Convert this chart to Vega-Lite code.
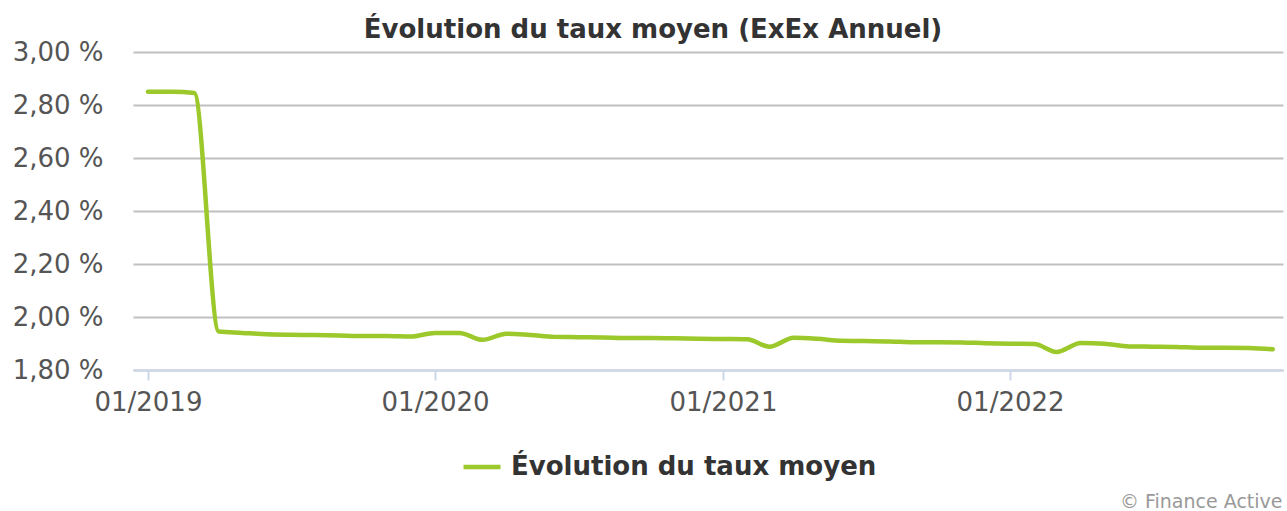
{
  "$schema": "https://vega.github.io/schema/vega-lite/v6.json",
  "width": 1150,
  "height": 318,
  "autosize": {"type": "none"},
  "padding": {"left": 133, "top": 52, "right": 4, "bottom": 141},
  "background": "white",
  "config": {"view": {"stroke": null}, "font": "DejaVu Sans"},
  "title": {
    "text": "Évolution du taux moyen (ExEx Annuel)",
    "font": "DejaVu Sans",
    "fontSize": 26,
    "fontWeight": "bold",
    "color": "#333333",
    "anchor": "middle",
    "frame": "group",
    "dx": -55,
    "offset": -4
  },
  "data": {
    "values": [
      {"date": "2019-01-01", "taux": 2.850, "serie": "Évolution du taux moyen"},
      {"date": "2019-02-01", "taux": 2.850, "serie": "Évolution du taux moyen"},
      {"date": "2019-03-01", "taux": 2.845, "serie": "Évolution du taux moyen"},
      {"date": "2019-04-01", "taux": 1.945, "serie": "Évolution du taux moyen"},
      {"date": "2019-05-01", "taux": 1.940, "serie": "Évolution du taux moyen"},
      {"date": "2019-06-01", "taux": 1.935, "serie": "Évolution du taux moyen"},
      {"date": "2019-07-01", "taux": 1.933, "serie": "Évolution du taux moyen"},
      {"date": "2019-08-01", "taux": 1.932, "serie": "Évolution du taux moyen"},
      {"date": "2019-09-01", "taux": 1.930, "serie": "Évolution du taux moyen"},
      {"date": "2019-10-01", "taux": 1.928, "serie": "Évolution du taux moyen"},
      {"date": "2019-11-01", "taux": 1.928, "serie": "Évolution du taux moyen"},
      {"date": "2019-12-01", "taux": 1.926, "serie": "Évolution du taux moyen"},
      {"date": "2020-01-01", "taux": 1.940, "serie": "Évolution du taux moyen"},
      {"date": "2020-02-01", "taux": 1.940, "serie": "Évolution du taux moyen"},
      {"date": "2020-03-01", "taux": 1.914, "serie": "Évolution du taux moyen"},
      {"date": "2020-04-01", "taux": 1.937, "serie": "Évolution du taux moyen"},
      {"date": "2020-05-01", "taux": 1.932, "serie": "Évolution du taux moyen"},
      {"date": "2020-06-01", "taux": 1.925, "serie": "Évolution du taux moyen"},
      {"date": "2020-07-01", "taux": 1.924, "serie": "Évolution du taux moyen"},
      {"date": "2020-08-01", "taux": 1.923, "serie": "Évolution du taux moyen"},
      {"date": "2020-09-01", "taux": 1.921, "serie": "Évolution du taux moyen"},
      {"date": "2020-10-01", "taux": 1.921, "serie": "Évolution du taux moyen"},
      {"date": "2020-11-01", "taux": 1.920, "serie": "Évolution du taux moyen"},
      {"date": "2020-12-01", "taux": 1.918, "serie": "Évolution du taux moyen"},
      {"date": "2021-01-01", "taux": 1.917, "serie": "Évolution du taux moyen"},
      {"date": "2021-02-01", "taux": 1.916, "serie": "Évolution du taux moyen"},
      {"date": "2021-03-01", "taux": 1.888, "serie": "Évolution du taux moyen"},
      {"date": "2021-04-01", "taux": 1.922, "serie": "Évolution du taux moyen"},
      {"date": "2021-05-01", "taux": 1.918, "serie": "Évolution du taux moyen"},
      {"date": "2021-06-01", "taux": 1.910, "serie": "Évolution du taux moyen"},
      {"date": "2021-07-01", "taux": 1.909, "serie": "Évolution du taux moyen"},
      {"date": "2021-08-01", "taux": 1.908, "serie": "Évolution du taux moyen"},
      {"date": "2021-09-01", "taux": 1.905, "serie": "Évolution du taux moyen"},
      {"date": "2021-10-01", "taux": 1.905, "serie": "Évolution du taux moyen"},
      {"date": "2021-11-01", "taux": 1.904, "serie": "Évolution du taux moyen"},
      {"date": "2021-12-01", "taux": 1.901, "serie": "Évolution du taux moyen"},
      {"date": "2022-01-01", "taux": 1.899, "serie": "Évolution du taux moyen"},
      {"date": "2022-02-01", "taux": 1.898, "serie": "Évolution du taux moyen"},
      {"date": "2022-03-01", "taux": 1.868, "serie": "Évolution du taux moyen"},
      {"date": "2022-04-01", "taux": 1.902, "serie": "Évolution du taux moyen"},
      {"date": "2022-05-01", "taux": 1.899, "serie": "Évolution du taux moyen"},
      {"date": "2022-06-01", "taux": 1.889, "serie": "Évolution du taux moyen"},
      {"date": "2022-07-01", "taux": 1.888, "serie": "Évolution du taux moyen"},
      {"date": "2022-08-01", "taux": 1.887, "serie": "Évolution du taux moyen"},
      {"date": "2022-09-01", "taux": 1.884, "serie": "Évolution du taux moyen"},
      {"date": "2022-10-01", "taux": 1.884, "serie": "Évolution du taux moyen"},
      {"date": "2022-11-01", "taux": 1.883, "serie": "Évolution du taux moyen"},
      {"date": "2022-12-01", "taux": 1.878, "serie": "Évolution du taux moyen"}
    ]
  },
  "mark": {"type": "line", "interpolate": "monotone", "strokeWidth": 4.5, "strokeCap": "round", "strokeJoin": "round"},
  "encoding": {
    "x": {
      "field": "date",
      "type": "temporal",
      "scale": {"domain": [{"year": 2018, "month": 12, "date": 13}, {"year": 2022, "month": 12, "date": 14}]},
      "axis": {
        "title": "© Finance Active",
        "titleFont": "DejaVu Sans",
        "titleFontSize": 19,
        "titleFontWeight": "normal",
        "titleColor": "#999999",
        "titleX": 1149,
        "titleY": 137,
        "titleAlign": "right",
        "titleBaseline": "alphabetic",
        "titleAngle": 0,
        "values": [
          {"year": 2019, "month": 1, "date": 1},
          {"year": 2020, "month": 1, "date": 1},
          {"year": 2021, "month": 1, "date": 1},
          {"year": 2022, "month": 1, "date": 1}
        ],
        "format": "%m/%Y",
        "labelFont": "DejaVu Sans",
        "labelFontSize": 26,
        "labelColor": "#555555",
        "labelPadding": 9,
        "labelFlush": false,
        "domainColor": "#ccd6eb",
        "domainWidth": 2,
        "tickColor": "#ccd6eb",
        "tickWidth": 2,
        "tickSize": 10,
        "grid": false
      }
    },
    "y": {
      "field": "taux",
      "type": "quantitative",
      "scale": {"domain": [1.8, 3.0], "nice": false, "zero": false},
      "axis": {
        "title": null,
        "values": [1.8, 2.0, 2.2, 2.4, 2.6, 2.8, 3.0],
        "labelExpr": "replace(format(datum.value, '.2f'), '.', ',') + ' %'",
        "labelFont": "DejaVu Sans",
        "labelFontSize": 26,
        "labelColor": "#555555",
        "labelPadding": 30,
        "domain": false,
        "ticks": false,
        "grid": true,
        "gridColor": "#c0c0c0",
        "gridWidth": 2
      }
    },
    "color": {
      "field": "serie",
      "type": "nominal",
      "scale": {"range": ["#9bc82a"]},
      "legend": {
        "title": null,
        "orient": "none",
        "legendX": 328,
        "legendY": 394,
        "symbolType": "stroke",
        "symbolSize": 1369,
        "symbolStrokeWidth": 4.5,
        "labelFont": "DejaVu Sans",
        "labelFontSize": 26,
        "labelFontWeight": "bold",
        "labelColor": "#333333",
        "labelOffset": 8,
        "labelLimit": 600
      }
    }
  }
}
